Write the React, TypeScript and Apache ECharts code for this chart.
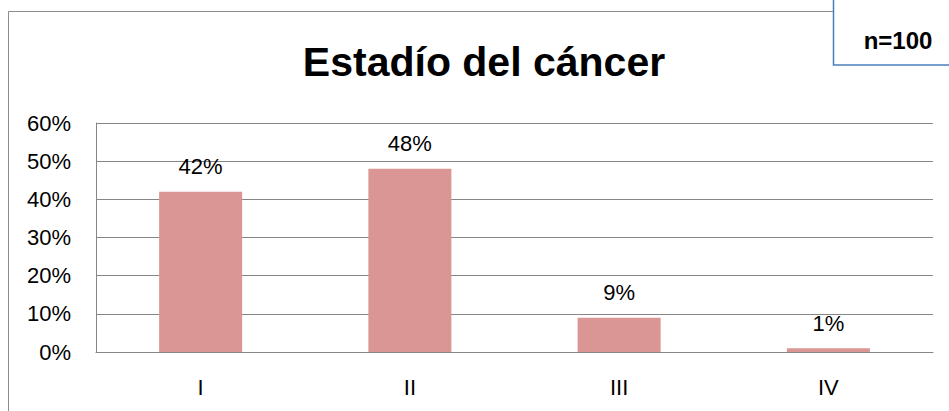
import React, { useEffect, useRef } from "react";
import * as echarts from "echarts";

const categories = ["I", "II", "III", "IV"];
const values = [0.42, 0.48, 0.09, 0.01];
const yTicks = { min: 0, max: 0.6, interval: 0.1 };
const titleText = "Estadío del cáncer";
const nText = "n=100";

export default function App() {
  const ref = useRef<HTMLDivElement>(null);
  useEffect(() => {
    document.body.style.margin = "0";
    const chart = echarts.init(ref.current!, null, { renderer: "svg" });
    chart.setOption({
      animation: false,
      backgroundColor: "#ffffff",
      graphic: [
        {
          type: "rect",
          shape: { x: 8.5, y: 11.5, width: 1000, height: 500 },
          style: { fill: "none", stroke: "#8c8c8c", lineWidth: 1 },
          z: 0,
        },
        {
          type: "rect",
          shape: { x: 833.5, y: -10, width: 200, height: 75 },
          style: { fill: "#ffffff", stroke: "#4a7ebb", lineWidth: 1.5 },
          z: 1,
        },
        {
          type: "text",
          x: 898,
          y: 40,
          style: {
            text: nText,
            fontFamily: "'Liberation Sans', sans-serif",
            fontWeight: "bold",
            fontSize: 24,
            fill: "#000",
            align: "center",
            verticalAlign: "middle",
          },
          z: 2,
        },
        {
          type: "text",
          x: 484,
          y: 62,
          style: {
            text: titleText,
            fontFamily: "'Liberation Sans', sans-serif",
            fontWeight: "bold",
            fontSize: 41,
            fill: "#000",
            align: "center",
            verticalAlign: "middle",
          },
          z: 2,
        },
      ],
      grid: { left: 96, right: 16, top: 123, bottom: 59 },
      xAxis: {
        type: "category",
        data: categories,
        axisLine: { show: true, lineStyle: { color: "#868686", width: 1 } },
        axisTick: { show: false },
        axisLabel: {
          color: "#000",
          fontFamily: "'Liberation Sans', sans-serif",
          fontSize: 22,
          margin: 24,
        },
      },
      yAxis: {
        type: "value",
        min: yTicks.min,
        max: yTicks.max,
        interval: yTicks.interval,
        axisLine: { show: true, lineStyle: { color: "#868686", width: 1 } },
        axisTick: { show: false },
        splitLine: { show: true, lineStyle: { color: "#868686", width: 1 } },
        axisLabel: {
          color: "#000",
          fontFamily: "'Liberation Sans', sans-serif",
          fontSize: 22,
          margin: 25,
          formatter: (v: number) => Math.round(v * 100) + "%",
        },
      },
      series: [
        {
          type: "bar",
          data: values,
          barWidth: 83,
          itemStyle: { color: "#d99694" },
          label: {
            show: true,
            position: "top",
            distance: 14,
            color: "#000",
            fontFamily: "'Liberation Sans', sans-serif",
            fontSize: 22,
            formatter: (p: any) => Math.round(p.value * 100) + "%",
          },
        },
      ],
    });
    return () => chart.dispose();
  }, []);
  return <div ref={ref} style={{ width: 949, height: 411 }} />;
}
